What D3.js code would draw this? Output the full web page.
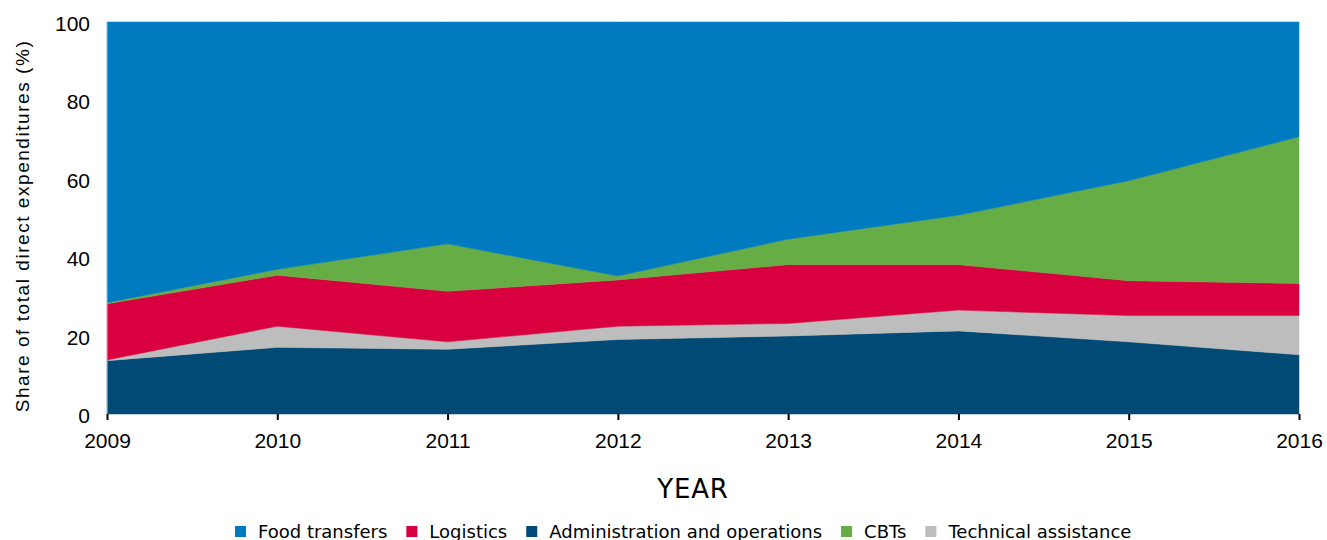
<!DOCTYPE html>
<html>
<head>
<meta charset="utf-8">
<script src="https://cdn.jsdelivr.net/npm/d3@7"></script>
<style>
  body { margin: 0; background: #fff; }
  svg { display: block; }
</style>
</head>
<body>
<div id="chart"></div>
<script>
// years on the x axis
var years = [2009, 2010, 2011, 2012, 2013, 2014, 2015, 2016];

// share of total direct expenditures (%)
var administration = [13.6, 17.0, 16.5, 19.0, 19.9, 21.2, 18.4, 15.1];
var technical = [0.2, 5.4, 1.9, 3.4, 3.2, 5.3, 6.7, 10.0];
var logistics = [14.3, 13.0, 12.9, 11.8, 15.0, 11.6, 8.9, 8.2];
var cbts = [0.3, 1.5, 12.1, 1.0, 6.5, 12.6, 25.5, 37.4];
var food = [71.6, 63.1, 56.6, 64.8, 55.4, 49.3, 40.5, 29.3];

var yTicks = [0, 20, 40, 60, 80, 100];

// stack order, bottom first
var stackKeys = ["administration", "technical", "logistics", "cbts", "food"];
var colors = {
  food: "#007bbf",
  logistics: "#d9003f",
  administration: "#004a75",
  cbts: "#66ad45",
  technical: "#bdbdbd"
};
var names = {
  food: "Food transfers",
  logistics: "Logistics",
  administration: "Administration and operations",
  cbts: "CBTs",
  technical: "Technical assistance"
};
// legend order as in the picture
var legendKeys = ["food", "logistics", "administration", "cbts", "technical"];

var table = years.map(function(y, i) {
  return {
    year: y,
    administration: administration[i],
    technical: technical[i],
    logistics: logistics[i],
    cbts: cbts[i],
    food: food[i]
  };
});

var width = 1327, height = 540;
var margin = {top: 22, right: 28, bottom: 126, left: 107};

var svg = d3.select("#chart").append("svg")
    .attr("width", width)
    .attr("height", height);

var x = d3.scaleLinear()
    .domain(d3.extent(years))
    .range([margin.left, width - margin.right]);

var y = d3.scaleLinear()
    .domain([0, 100])
    .range([height - margin.bottom, margin.top]);

var series = d3.stack().keys(stackKeys)(table);

var area = d3.area()
    .x(function(d) { return x(d.data.year); })
    .y0(function(d) { return y(d[0]); })
    .y1(function(d) { return Math.max(y(d[1]), margin.top); });

svg.append("g")
  .selectAll("path")
  .data(series)
  .join("path")
    .attr("fill", function(d) { return colors[d.key]; })
    .attr("stroke", function(d) { return colors[d.key]; })
    .attr("stroke-width", 0.5)
    .attr("d", area);

// y axis: thin grey line, no ticks
var yAxis = svg.append("g")
    .attr("transform", "translate(" + margin.left + ",0)")
    .call(d3.axisLeft(y).tickValues(yTicks).tickSize(0).tickPadding(17));
yAxis.select(".domain").attr("stroke", "#888").attr("stroke-width", 1);
yAxis.selectAll("text")
    .attr("font-family", "Liberation Sans, Arial, sans-serif")
    .attr("font-size", 21)
    .attr("dy", "0.4em")
    .attr("fill", "#000");

// x axis: tick marks below, no line
var xAxis = svg.append("g")
    .attr("transform", "translate(0," + y(0) + ")")
    .call(d3.axisBottom(x).tickValues(years).tickFormat(d3.format("d")).tickSize(6).tickPadding(13));
xAxis.select(".domain").remove();
xAxis.selectAll("line").attr("stroke", "#000").attr("stroke-width", 2);
xAxis.selectAll("text")
    .attr("font-family", "Liberation Sans, Arial, sans-serif")
    .attr("font-size", 21)
    .attr("fill", "#000");

svg.append("text")
    .attr("transform", "translate(29,226) rotate(-90)")
    .attr("text-anchor", "middle")
    .attr("font-family", "Liberation Sans, Arial, sans-serif")
    .attr("font-size", 19)
    .attr("letter-spacing", 1.55)
    .attr("fill", "#000")
    .text("Share of total direct expenditures (%)");

svg.append("text")
    .attr("x", 693)
    .attr("y", 498)
    .attr("text-anchor", "middle")
    .attr("font-family", "DejaVu Sans, Verdana, sans-serif")
    .attr("font-size", 26)
    .attr("letter-spacing", 0.8)
    .attr("fill", "#000")
    .text("YEAR");

// legend
var legend = svg.append("g")
    .attr("font-family", "DejaVu Sans, Verdana, sans-serif")
    .attr("font-size", 18)
    .attr("fill", "#000");

var lx = 235;
legendKeys.forEach(function(k) {
  var item = legend.append("g").attr("transform", "translate(" + lx + ",0)");
  item.append("rect")
      .attr("x", 0).attr("y", 526)
      .attr("width", 11).attr("height", 11)
      .attr("fill", colors[k]);
  var t = item.append("text")
      .attr("x", 23).attr("y", 538)
      .text(names[k]);
  lx += 23 + t.node().getComputedTextLength() + 19;
});
</script>
</body>
</html>
